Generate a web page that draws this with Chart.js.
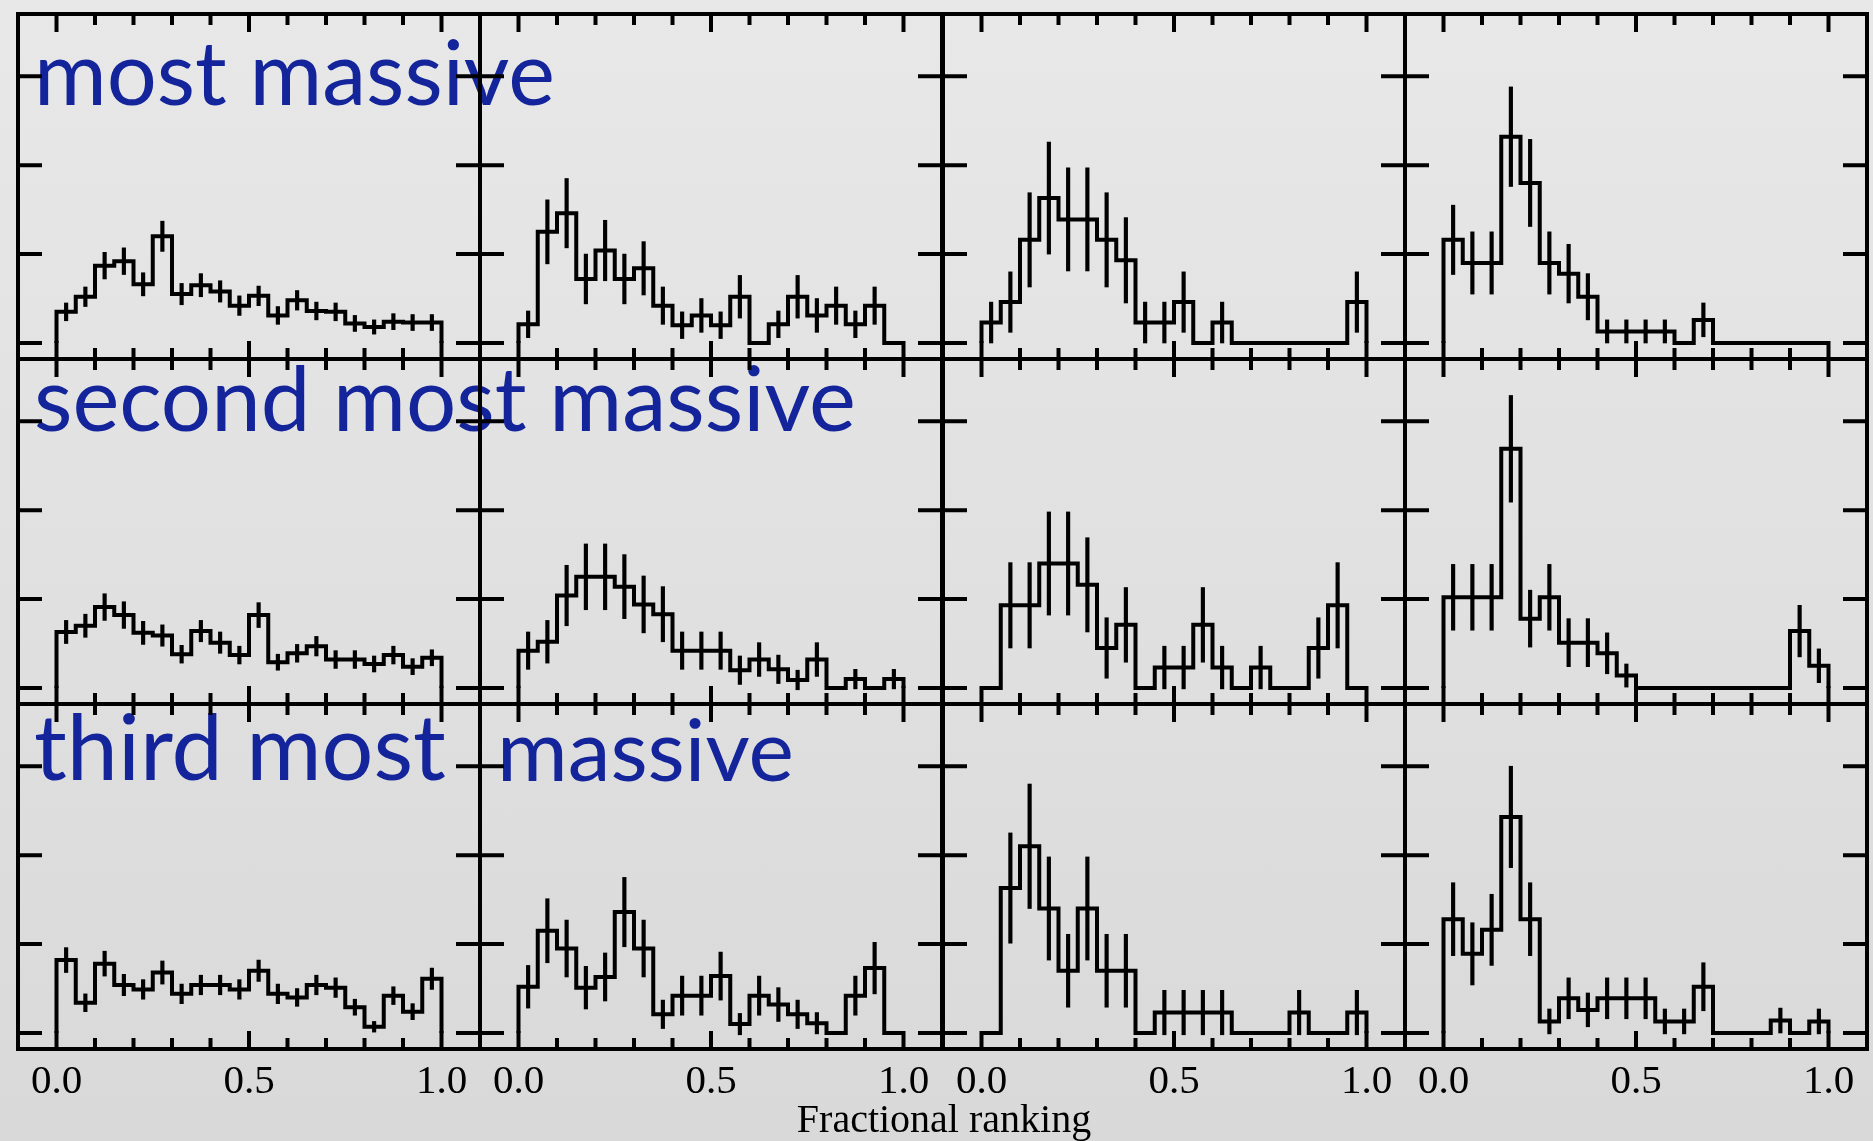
<!DOCTYPE html>
<html>
<head>
<meta charset="utf-8">
<script src="https://cdn.jsdelivr.net/npm/chart.js@4.4.0/dist/chart.umd.min.js"></script>
<style>
  html, body { margin: 0; padding: 0; }
  body {
    width: 1873px; height: 1141px; overflow: hidden; position: relative;
    background: linear-gradient(#e8e8e8, #d9d9d9);
  }
  canvas { position: absolute; z-index: 2; }
  .big {
    position: absolute; z-index: 1; white-space: nowrap; line-height: 1;
    font-family: Lato, "Open Sans", sans-serif; color: #14249b;
  }
  #xtitle {
    position: absolute; z-index: 3; white-space: nowrap; line-height: 1;
    font-family: "Liberation Serif", serif; color: #000;
  }
</style>
</head>
<body>
<div class="big" id="t1">most massive</div>
<div class="big" id="t2">second most massive</div>
<div class="big" id="t3a">third most</div>
<div class="big" id="t3b">massive</div>
<div id="xtitle">Fractional ranking</div>

<script>
// bins of the fractional ranking (left edges + last right edge, and centres)
const binEdges = [0.00, 0.05, 0.10, 0.15, 0.20, 0.25, 0.30, 0.35, 0.40, 0.45,
                  0.50, 0.55, 0.60, 0.65, 0.70, 0.75, 0.80, 0.85, 0.90, 0.95, 1.00];
const binCenters = [0.025, 0.075, 0.125, 0.175, 0.225, 0.275, 0.325, 0.375, 0.425, 0.475,
                    0.525, 0.575, 0.625, 0.675, 0.725, 0.775, 0.825, 0.875, 0.925, 0.975];

const xMinorTicks = [0, 0.1, 0.2, 0.3, 0.4, 0.5, 0.6, 0.7, 0.8, 0.9, 1.0];
const xMajorTicks = [0, 0.5, 1.0];
const xTickLabels = ["0.0", "0.5", "1.0"];
const yTicks = [0, 1, 2, 3];

// row 1: most massive
const mostA    = [0.35,0.52,0.87,0.92,0.66,1.20,0.55,0.65,0.58,0.42,0.53,0.31,0.48,0.36,0.35,0.22,0.18,0.24,0.23,0.23];
const mostAErr = [0.10,0.11,0.15,0.15,0.13,0.17,0.12,0.13,0.12,0.11,0.11,0.10,0.11,0.10,0.10,0.09,0.08,0.09,0.09,0.09];
const mostB    = [0.21,1.25,1.46,0.72,1.04,0.72,0.84,0.42,0.20,0.31,0.20,0.52,0,0.21,0.52,0.31,0.42,0.21,0.42,0];
const mostBErr = [0.15,0.36,0.39,0.28,0.34,0.28,0.30,0.21,0.15,0.19,0.15,0.24,0,0.15,0.24,0.19,0.21,0.15,0.21,0];
const mostC    = [0.23,0.46,1.16,1.63,1.39,1.39,1.16,0.93,0.23,0.23,0.46,0,0.23,0,0,0,0,0,0,0.46];
const mostCErr = [0.23,0.34,0.53,0.63,0.58,0.58,0.53,0.48,0.23,0.23,0.34,0,0.23,0,0,0,0,0,0,0.34];
const mostD    = [1.16,0.90,0.90,2.32,1.80,0.90,0.78,0.52,0.13,0.13,0.13,0.13,0,0.26,0,0,0,0,0,0];
const mostDErr = [0.39,0.35,0.35,0.56,0.49,0.35,0.33,0.26,0.13,0.13,0.13,0.13,0,0.19,0,0,0,0,0,0];

// row 2: second most massive
const secondA    = [0.63,0.70,0.91,0.82,0.62,0.59,0.38,0.64,0.51,0.37,0.82,0.29,0.39,0.47,0.32,0.32,0.27,0.37,0.24,0.34];
const secondAErr = [0.13,0.13,0.15,0.15,0.13,0.12,0.10,0.12,0.12,0.10,0.14,0.09,0.10,0.11,0.10,0.10,0.09,0.10,0.09,0.09];
const secondB    = [0.42,0.52,1.04,1.25,1.25,1.14,0.94,0.83,0.42,0.42,0.42,0.20,0.32,0.21,0.09,0.32,0,0.10,0,0.10];
const secondBErr = [0.21,0.24,0.34,0.37,0.37,0.36,0.32,0.31,0.21,0.21,0.21,0.16,0.19,0.16,0.11,0.19,0,0.11,0,0.11];
const secondC    = [0,0.93,0.93,1.40,1.40,1.16,0.45,0.71,0,0.23,0.23,0.71,0.23,0,0.23,0,0,0.45,0.93,0];
const secondCErr = [0,0.48,0.48,0.58,0.58,0.53,0.34,0.42,0,0.24,0.24,0.42,0.24,0,0.24,0,0,0.34,0.48,0];
const secondD    = [1.02,1.02,1.02,2.69,0.78,1.02,0.51,0.51,0.39,0.14,0,0,0,0,0,0,0,0,0.64,0.25];
const secondDErr = [0.37,0.37,0.37,0.60,0.32,0.37,0.27,0.27,0.23,0.13,0,0,0,0,0,0,0,0,0.29,0.19];

// row 3: third most massive
const thirdA    = [0.82,0.34,0.78,0.54,0.49,0.68,0.44,0.54,0.54,0.49,0.70,0.44,0.40,0.54,0.51,0.29,0.07,0.42,0.24,0.61];
const thirdAErr = [0.14,0.10,0.14,0.12,0.11,0.13,0.11,0.11,0.11,0.11,0.12,0.11,0.10,0.11,0.11,0.09,0.06,0.10,0.09,0.12];
const thirdB    = [0.52,1.15,0.95,0.51,0.63,1.36,0.95,0.21,0.42,0.42,0.64,0.10,0.42,0.32,0.21,0.11,0,0.42,0.73,0];
const thirdBErr = [0.24,0.36,0.32,0.24,0.27,0.39,0.32,0.16,0.22,0.22,0.27,0.12,0.22,0.19,0.16,0.12,0,0.22,0.29,0];
const thirdC    = [0,1.63,2.10,1.40,0.70,1.40,0.70,0.70,0,0.23,0.23,0.23,0.23,0,0,0,0.23,0,0,0.23];
const thirdCErr = [0,0.62,0.70,0.58,0.41,0.58,0.41,0.41,0,0.25,0.25,0.25,0.25,0,0,0,0.25,0,0,0.25];
const thirdD    = [1.28,0.89,1.16,2.43,1.28,0.13,0.39,0.26,0.39,0.39,0.39,0.13,0.13,0.52,0,0,0,0.14,0,0.13];
const thirdDErr = [0.41,0.35,0.40,0.57,0.41,0.14,0.23,0.19,0.23,0.23,0.23,0.14,0.14,0.27,0,0,0,0.14,0,0.14];

const panels = [
  [[mostA, mostAErr], [mostB, mostBErr], [mostC, mostCErr], [mostD, mostDErr]],
  [[secondA, secondAErr], [secondB, secondBErr], [secondC, secondCErr], [secondD, secondDErr]],
  [[thirdA, thirdAErr], [thirdB, thirdBErr], [thirdC, thirdCErr], [thirdD, thirdDErr]]
];

// panel layout (page pixels)
const colLeft = [18, 480, 943, 1405];
const rowTop = [14, 359, 704];
const W = 462, H = 345, P = 6, E = 80;

// frame + inward ticks on all four sides
const frameTicks = {
  id: "frameTicks",
  afterDraw(chart) {
    const { ctx, chartArea: a, scales: { x, y } } = chart;
    ctx.save();
    ctx.strokeStyle = "#000";
    ctx.lineWidth = 4;
    ctx.beginPath();
    xMinorTicks.forEach((v) => {
      const px = x.getPixelForValue(v);
      const len = xMajorTicks.includes(v) ? 18 : 11;
      ctx.moveTo(px, a.bottom); ctx.lineTo(px, a.bottom - len);
      ctx.moveTo(px, a.top); ctx.lineTo(px, a.top + len);
    });
    yTicks.forEach((v) => {
      const py = y.getPixelForValue(v);
      ctx.moveTo(a.left, py); ctx.lineTo(a.left + 24, py);
      ctx.moveTo(a.right, py); ctx.lineTo(a.right - 24, py);
    });
    ctx.stroke();
    ctx.strokeRect(a.left, a.top, a.width, a.height);
    ctx.restore();
  }
};

function stepPoints(vals) {
  const pts = [{ x: binEdges[0], y: 0 }];
  vals.forEach((v, i) => pts.push({ x: binEdges[i], y: v }));
  pts.push({ x: binEdges[binEdges.length - 1], y: vals[vals.length - 1] });
  pts.push({ x: binEdges[binEdges.length - 1], y: 0 });
  return pts;
}

function errPoints(vals, errs) {
  const pts = [];
  vals.forEach((v, i) => {
    if (errs[i] > 0) pts.push({ x: binCenters[i], y: [v - errs[i], v + errs[i]] });
  });
  return pts;
}

panels.forEach((row, r) => {
  row.forEach(([vals, errs], c) => {
    const isBottom = r === panels.length - 1;
    const cv = document.createElement("canvas");
    cv.width = W + 2 * P;
    cv.height = H + P + (isBottom ? E : P);
    cv.style.left = (colLeft[c] - P) + "px";
    cv.style.top = (rowTop[r] - P) + "px";
    document.body.appendChild(cv);

    new Chart(cv, {
      type: "line",
      data: {
        datasets: [
          {
            type: "line",
            data: stepPoints(vals),
            stepped: "before",
            borderColor: "#000",
            borderWidth: 4,
            pointRadius: 0,
            fill: false
          },
          {
            type: "bar",
            data: errPoints(vals, errs),
            backgroundColor: "#000",
            borderWidth: 0,
            barThickness: 3.5
          }
        ]
      },
      options: {
        responsive: false,
        animation: false,
        devicePixelRatio: 1,
        layout: { padding: { left: P, right: P, top: P, bottom: isBottom ? 0 : P } },
        plugins: { legend: { display: false }, tooltip: { enabled: false } },
        scales: {
          x: {
            type: "linear",
            min: -0.1,
            max: 1.1,
            offset: false,
            display: isBottom,
            grid: { display: false, drawTicks: false },
            border: { display: false },
            afterBuildTicks: (s) => { s.ticks = xMajorTicks.map((v) => ({ value: v })); },
            afterFit: (s) => { s.height = isBottom ? E : 0; },
            ticks: {
              autoSkip: false,
              maxRotation: 0,
              padding: 9,
              color: "#000",
              font: { family: "Liberation Serif", size: 41 },
              callback: (v, i) => xTickLabels[i]
            }
          },
          y: { min: -0.18, max: 3.70, display: false }
        }
      },
      plugins: [frameTicks]
    });
  });
});

// big labels, fitted to the width they take in the figure
function placeText(id, left, right, baseline, ascent) {
  const el = document.getElementById(id);
  el.style.fontSize = "100px";
  const w = el.getBoundingClientRect().width;
  const fs = 100 * (right - left) / w;
  el.style.fontSize = fs + "px";
  el.style.left = left + "px";
  el.style.top = (baseline - ascent * fs) + "px";
}
placeText("t1", 34, 555, 105, 0.887);
placeText("t2", 34, 856, 432, 0.887);
placeText("t3a", 34, 446, 781, 0.887);
placeText("t3b", 497, 794, 781, 0.887);

const xt = document.getElementById("xtitle");
xt.style.fontSize = "40px";
const xw = xt.getBoundingClientRect().width;
xt.style.left = (944 - xw / 2) + "px";
xt.style.top = (1099) + "px";
</script>
</body>
</html>
